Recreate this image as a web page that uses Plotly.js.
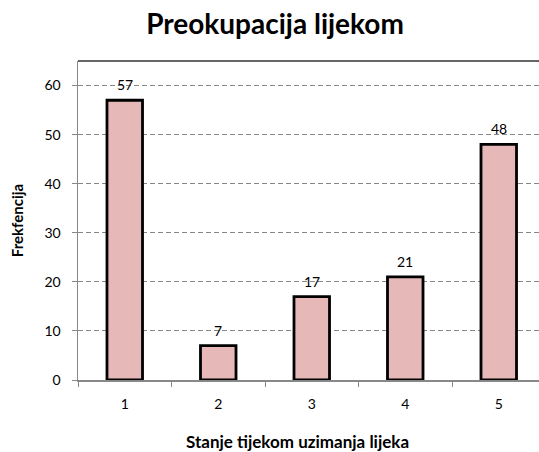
<!DOCTYPE html>
<html>
<head>
<meta charset="utf-8">
<script src="https://cdn.plot.ly/plotly-3.0.1.min.js"></script>
<style>html,body{margin:0;padding:0;background:#fff;}</style>
</head>
<body>
<div id="chart" style="width:539px;height:452px;"></div>
<script>
const categories = ["1", "2", "3", "4", "5"];
const values = [57, 7, 17, 21, 48];
const yTickVals = [0, 10, 20, 30, 40, 50, 60];
const titleText = "Preokupacija lijekom";
const xTitleText = "Stanje tijekom uzimanja lijeka";
const yTitleText = "Frekfencija";

const FONT = "Lato, 'Open Sans', sans-serif";

const trace = {
  type: "bar",
  x: categories,
  y: values,
  width: 0.38,
  marker: { color: "#E6B9B8", line: { color: "#000000", width: 2.8 } },
  hoverinfo: "none"
};

const labelAnns = categories.map((c, i) => ({
  x: i, y: values[i], xref: "x", yref: "y",
  text: String(values[i]), showarrow: false,
  yanchor: "bottom", yshift: 5,
  font: { family: FONT, size: 14, color: "#000" }
}));

const layout = {
  width: 539, height: 452,
  margin: { l: 78, r: 0, t: 61, b: 72 },
  paper_bgcolor: "#fff", plot_bgcolor: "#fff",
  showlegend: false,
  title: {
    text: "<b>" + titleText + "</b>",
    x: 275 / 539, xref: "container", xanchor: "center",
    y: 1 - 24 / 452, yref: "container", yanchor: "middle",
    font: { family: FONT, size: 28, color: "#000" }
  },
  xaxis: {
    type: "category",
    range: [-0.5, -0.5 + 461 / 93.5],
    showline: true, linecolor: "#888", linewidth: 1.5,
    ticks: "outside", tickson: "boundaries", ticklen: 5, tickcolor: "#888",
    ticklabelstandoff: 11,
    showgrid: false, zeroline: false,
    tickfont: { family: FONT, size: 14, color: "#000" },
    fixedrange: true
  },
  yaxis: {
    range: [0, 65],
    tickvals: yTickVals,
    showline: true, linecolor: "#888", linewidth: 1.5,
    ticks: "outside", ticklen: 5, tickcolor: "#888",
    ticklabelstandoff: 8,
    showgrid: true, gridcolor: "#888", gridwidth: 1, griddash: "5px,3px",
    zeroline: false,
    tickfont: { family: FONT, size: 14, color: "#000" },
    title: { text: "<b>" + yTitleText + "</b>", standoff: 17, font: { family: FONT, size: 15, color: "#000" } },
    fixedrange: true
  },
  shapes: [
    { type: "line", xref: "paper", yref: "paper", x0: 0, x1: 1, y0: 1, y1: 1,
      line: { color: "#333", width: 1.5 } }
  ],
  annotations: labelAnns.concat([
    { xref: "paper", yref: "paper", x: (297 - 78) / 461, y: -(442 - 380) / 319,
      xanchor: "center", yanchor: "middle", showarrow: false,
      text: "<b>" + xTitleText + "</b>",
      font: { family: FONT, size: 17, color: "#000" } }
  ])
};

Plotly.newPlot("chart", [trace], layout, { displayModeBar: false, staticPlot: true });
</script>
</body>
</html>
